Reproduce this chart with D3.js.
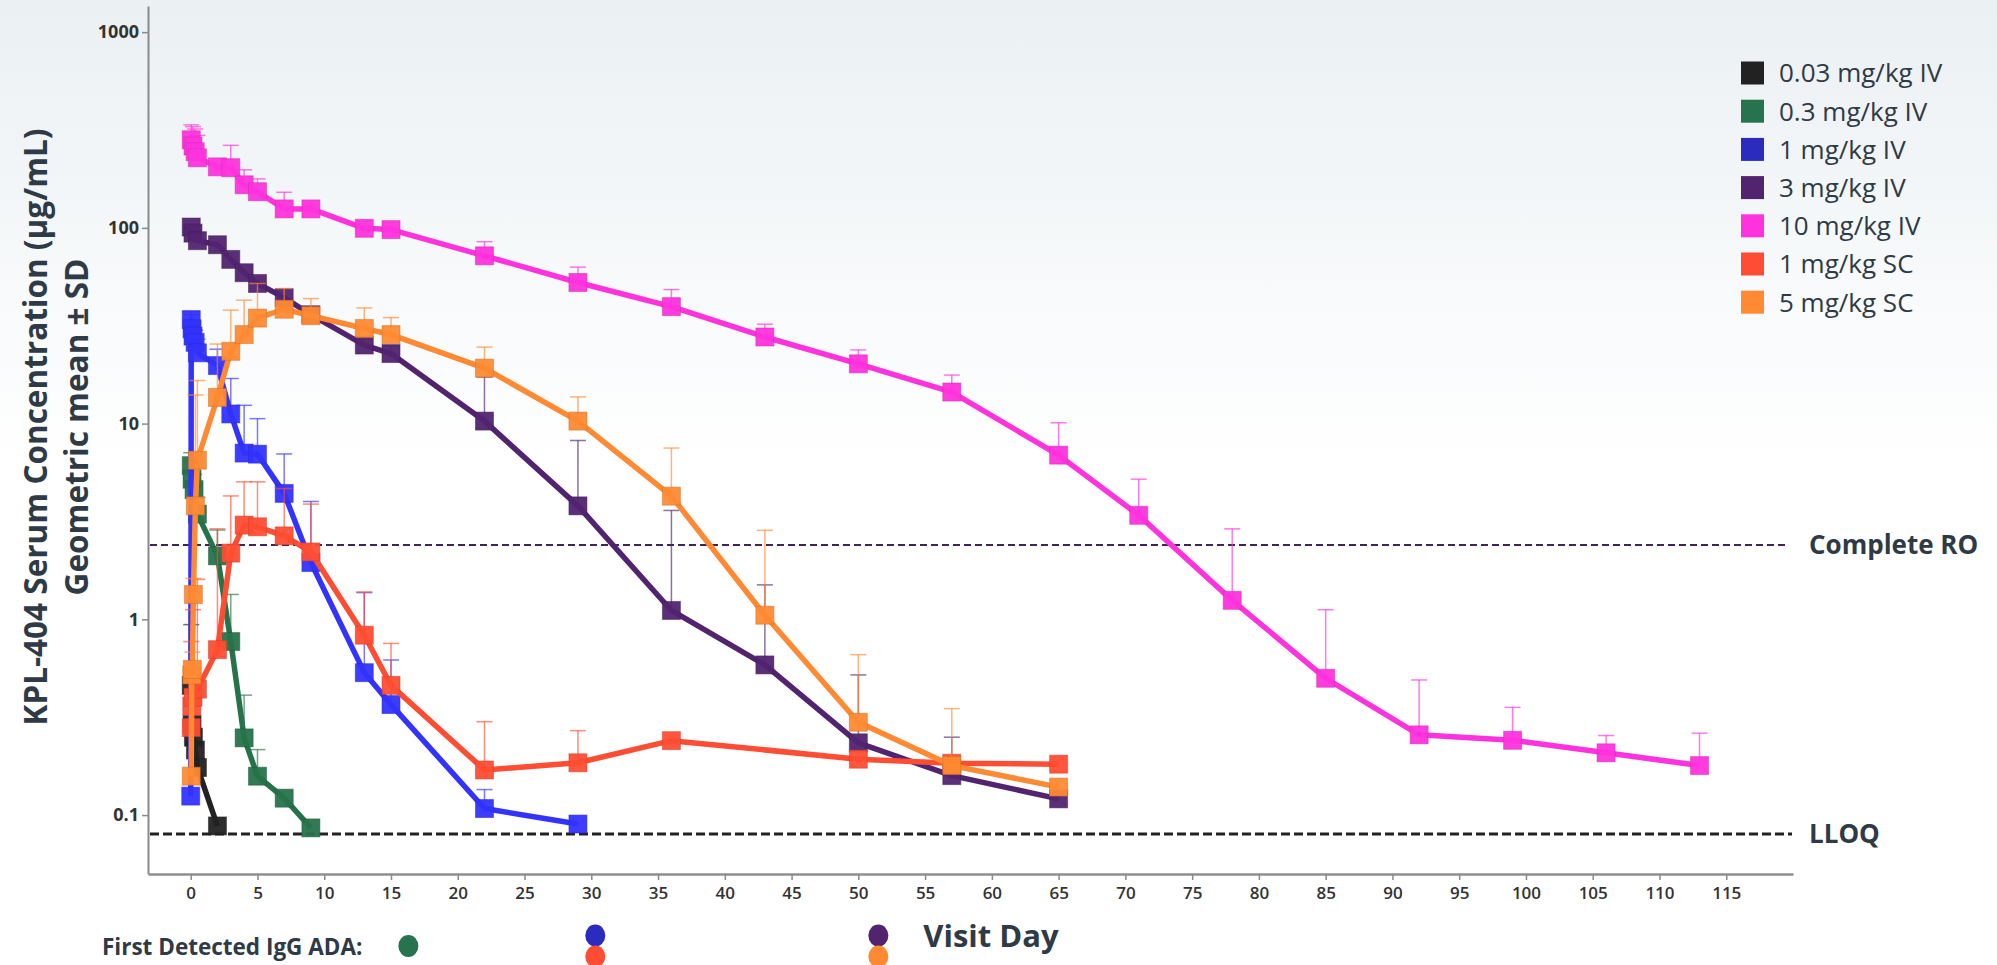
<!DOCTYPE html>
<html><head><meta charset="utf-8">
<script src="https://cdn.jsdelivr.net/npm/d3@7"></script>
<style>html,body{margin:0;padding:0;background:#fff;}svg{display:block;}</style>
</head><body>
<svg id="chart" width="1997" height="965"></svg>
<script>
// ---------- DATA ----------
const seriesNames = ["0.03 mg/kg IV","0.3 mg/kg IV","1 mg/kg IV","3 mg/kg IV","10 mg/kg IV","1 mg/kg SC","5 mg/kg SC"];

const daysBlack  = [0.04, 0.1, 0.2, 0.35, 0.5, 2];
const concBlack  = [0.46, 0.29, 0.25, 0.215, 0.175, 0.088];
const upperBlack = [0.94, 0.54, null, null, null, null];

const daysGreen  = [0.04, 0.1, 0.25, 0.5, 2, 3, 4, 5, 7, 9];
const concGreen  = [6.1, 5.2, 4.6, 3.45, 2.11, 0.77, 0.248, 0.158, 0.122, 0.086];
const upperGreen = [7.1, 6.4, 5.5, 4.2, 2.86, 1.34, 0.41, 0.216, null, null];

const daysBlue   = [0, 0.04, 0.1, 0.17, 0.33, 0.5, 2, 3, 4, 5, 7, 9, 13, 15, 22, 29];
const concBlue   = [0.125, 34, 30.5, 28, 26, 23, 19.8, 11.2, 7.07, 6.98, 4.4, 1.95, 0.534, 0.367, 0.108, 0.090];
const upperBlue  = [null, 37.3, 36, 33, 30, 27, 24, 17.0, 12.4, 10.6, 7.0, 4.0, 1.37, 0.62, 0.135, null];

const daysPurple  = [0.04, 0.17, 0.5, 2, 3, 4, 5, 7, 9, 13, 15, 22, 29, 36, 43, 50, 57, 65];
const concPurple  = [101, 94, 86, 82, 69, 59, 52, 44, 36, 25.2, 22.8, 10.3, 3.8, 1.11, 0.585, 0.234, 0.159, 0.121];
const upperPurple = [null, null, null, null, null, null, null, null, null, 27, 25, 17.3, 8.2, 3.6, 1.5, 0.52, 0.25, 0.131];

const daysMagenta  = [0.04, 0.17, 0.33, 0.5, 2, 3, 4, 5, 7, 9, 13, 15, 22, 29, 36, 43, 50, 57, 65, 71, 78, 85, 92, 99, 106, 113];
const concMagenta  = [282, 262, 245, 228, 205, 203, 166, 153, 125, 125, 99.5, 98, 72, 52.6, 39.6, 27.7, 20.2, 14.5, 6.9, 3.4, 1.25, 0.50, 0.257, 0.241, 0.208, 0.179];
const upperMagenta = [336, 329, 320, 297, null, 264, 198, 178, 152, 130, 108, null, 85, 63, 48.4, 32.2, 23.8, 17.7, 10.1, 5.2, 2.9, 1.12, 0.49, 0.355, 0.255, 0.262];

const daysRed  = [0.04, 0.08, 0.17, 0.5, 2, 3, 4, 5, 7, 9, 13, 15, 22, 29, 36, 50, 57, 65];
const concRed  = [0.28, 0.36, 0.40, 0.44, 0.70, 2.18, 3.03, 2.97, 2.67, 2.21, 0.83, 0.46, 0.17, 0.185, 0.24, 0.193, 0.184, 0.182];
const upperRed = [0.77, null, 1.12, 1.6, 2.9, 4.27, 5.04, 5.04, 4.66, 3.88, 1.38, 0.753, 0.30, 0.27, null, null, null, null];

const daysOrange  = [0.04, 0.08, 0.12, 0.2, 0.35, 0.5, 2, 3, 4, 5, 7, 9, 13, 15, 22, 29, 36, 43, 50, 57, 65];
const concOrange  = [0.158, 0.52, 0.555, 1.34, 3.8, 6.5, 13.6, 23.4, 28.5, 34.6, 38.4, 35.6, 30.6, 28.5, 19.2, 10.3, 4.26, 1.05, 0.298, 0.179, 0.139];
const upperOrange = [null, 0.6, 0.68, 1.62, 14, 16.6, 25.5, 38, 42.7, 52, 49, 43.5, 39, 34.8, 24.6, 13.7, 7.5, 2.85, 0.66, 0.35, 0.15];

const xTicks = [0,5,10,15,20,25,30,35,40,45,50,55,60,65,70,75,80,85,90,95,100,105,110,115];
const yTicks = [0.1, 1, 10, 100, 1000];
const yTickLabels = ["0.1","1","10","100","1000"];

const refNames  = ["Complete RO", "LLOQ"];
const refValues = [2.4, 0.08];

const adaSeries = ["0.3 mg/kg IV", "1 mg/kg IV", "1 mg/kg SC", "3 mg/kg IV", "5 mg/kg SC"];
const adaDay    = [16.3, 30.3, 30.3, 51.5, 51.5];
const adaRow    = [0, -1, 1, -1, 1];

// ---------- STYLE ----------
const lineColors   = ["#222222","#26734a","#3333ff","#522470","#ff33dd","#ff4d33","#ff8a33"];
const legendColors = ["#222222","#26734d","#2b2bbf","#52246f","#ff33dd","#ff4d33","#ff8a33"];
const textColor = "#2e3a46";

const seriesData = [
  [daysBlack, concBlack, upperBlack],
  [daysGreen, concGreen, upperGreen],
  [daysBlue, concBlue, upperBlue],
  [daysPurple, concPurple, upperPurple],
  [daysMagenta, concMagenta, upperMagenta],
  [daysRed, concRed, upperRed],
  [daysOrange, concOrange, upperOrange]
];

const svg = d3.select("#chart");
const W = 1997, H = 965;

// background gradient
const defs = svg.append("defs");
const grad = defs.append("linearGradient").attr("id","bg").attr("x1",0).attr("y1",0).attr("x2",0).attr("y2",1);
grad.append("stop").attr("offset","0%").attr("stop-color","#ebf0f3");
grad.append("stop").attr("offset","48%").attr("stop-color","#ffffff");
grad.append("stop").attr("offset","100%").attr("stop-color","#ffffff");
svg.append("rect").attr("width",W).attr("height",H).attr("fill","url(#bg)");

const x = d3.scaleLinear().domain([-3.2, 120]).range([148, 1793]);
const y = d3.scaleLog().domain([0.05, 1360]).range([874, 6]);

// axes
const yAxis = d3.axisLeft(y).tickValues(yTicks).tickFormat((d,i)=>yTickLabels[i]).tickSize(6).tickSizeOuter(0);
const gy = svg.append("g").attr("transform","translate(148,0)").call(yAxis);
gy.select(".domain").attr("stroke","#8a8a8a").attr("stroke-width",2);
gy.selectAll(".tick line").attr("stroke","#8a8a8a").attr("stroke-width",1.5);
gy.selectAll(".tick text").attr("font-family","'Open Sans', sans-serif").attr("font-weight",700)
  .attr("font-size",18).attr("fill","#333").attr("x",-9);

const xAxis = d3.axisBottom(x).tickValues(xTicks).tickSize(6).tickSizeOuter(0);
const gx = svg.append("g").attr("transform","translate(0,874)").call(xAxis);
gx.select(".domain").attr("stroke","#8f8f8f").attr("stroke-width",2.5);
gx.selectAll(".tick line").attr("stroke","#8a8a8a").attr("stroke-width",1.5);
gx.selectAll(".tick text").attr("font-family","'Open Sans', sans-serif").attr("font-weight",600)
  .attr("font-size",17).attr("fill","#333").attr("dy","0.95em");

// reference lines
const refStyles = [{c:"#3e2552", w:2, dash:"7,4", x2:1785},{c:"#222", w:3, dash:"9,4", x2:1792}];
refNames.forEach((n,i)=>{
  const st = refStyles[i];
  svg.append("line").attr("x1",150).attr("x2",st.x2).attr("y1",y(refValues[i])).attr("y2",y(refValues[i]))
    .attr("stroke",st.c).attr("stroke-width",st.w).attr("stroke-dasharray",st.dash);
  svg.append("text").attr("x",1809).attr("y",y(refValues[i])).attr("dy","0.35em")
    .attr("font-family","'Open Sans', sans-serif").attr("font-weight",700).attr("font-size",26)
    .attr("fill",textColor).text(n);
});

// series
const line = d3.line().x(d=>x(d.day)).y(d=>y(d.v));
const sq = 18;
seriesData.forEach((s,si)=>{
  const pts = s[0].map((d,i)=>({day:d, v:s[1][i], up:s[2][i]}));
  const c = lineColors[si];
  const g = svg.append("g");
  const eb = pts.filter(p=>p.up!=null);
  g.selectAll(".eb").data(eb).enter().append("line")
    .attr("x1",p=>x(p.day)).attr("x2",p=>x(p.day)).attr("y1",p=>y(p.v)).attr("y2",p=>y(p.up))
    .attr("stroke",c).attr("stroke-width",1.5).attr("stroke-opacity",0.65);
  g.selectAll(".cap").data(eb).enter().append("line")
    .attr("x1",p=>x(p.day)-8).attr("x2",p=>x(p.day)+8).attr("y1",p=>y(p.up)).attr("y2",p=>y(p.up))
    .attr("stroke",c).attr("stroke-width",1.5).attr("stroke-opacity",0.65);
  g.append("path").datum(pts).attr("d",line).attr("fill","none").attr("stroke",c)
    .attr("stroke-width",5.5).attr("stroke-linejoin","round");
  g.selectAll(".pt").data(pts).enter().append("rect")
    .attr("x",p=>x(p.day)-sq/2).attr("y",p=>y(p.v)-sq/2).attr("width",sq).attr("height",sq)
    .attr("fill",c).attr("fill-opacity",0.95).attr("stroke",d3.color(c).darker(0.6)).attr("stroke-opacity",0.5).attr("stroke-width",1);
});

// legend
seriesNames.forEach((n,i)=>{
  const cy = 73 + i*38.2;
  svg.append("rect").attr("x",1741).attr("y",cy-11.5).attr("width",23).attr("height",23).attr("fill",legendColors[i]);
  svg.append("text").attr("x",1779).attr("y",cy).attr("dy","0.36em")
    .attr("font-family","'Open Sans', sans-serif").attr("font-size",26).attr("fill",textColor).text(n);
});

// axis titles
const yt = svg.append("text").attr("transform","translate(36,427) rotate(-90)")
  .attr("text-anchor","middle").attr("font-family","'Open Sans', sans-serif").attr("font-weight",700)
  .attr("font-size",31.5).attr("fill",textColor);
yt.append("tspan").attr("x",0).attr("dy","0.35em").text("KPL-404 Serum Concentration (µg/mL)");
yt.append("tspan").attr("x",0).attr("dy","1.3em").text("Geometric mean ± SD");

svg.append("text").attr("x",991).attr("y",936).attr("dy","0.35em").attr("text-anchor","middle")
  .attr("font-family","'Open Sans', sans-serif").attr("font-weight",700).attr("font-size",31)
  .attr("fill",textColor).text("Visit Day");

svg.append("text").attr("x",102).attr("y",947).attr("dy","0.35em")
  .attr("font-family","'Open Sans', sans-serif").attr("font-weight",700).attr("font-size",22.5)
  .attr("fill",textColor).text("First Detected IgG ADA:");

adaSeries.forEach((n,i)=>{
  const ci = seriesNames.indexOf(n);
  svg.append("ellipse").attr("cx",x(adaDay[i])).attr("cy",946 + adaRow[i]*10.5)
    .attr("rx",10).attr("ry",11).attr("fill",legendColors[ci]);
});
</script>
</body></html>
